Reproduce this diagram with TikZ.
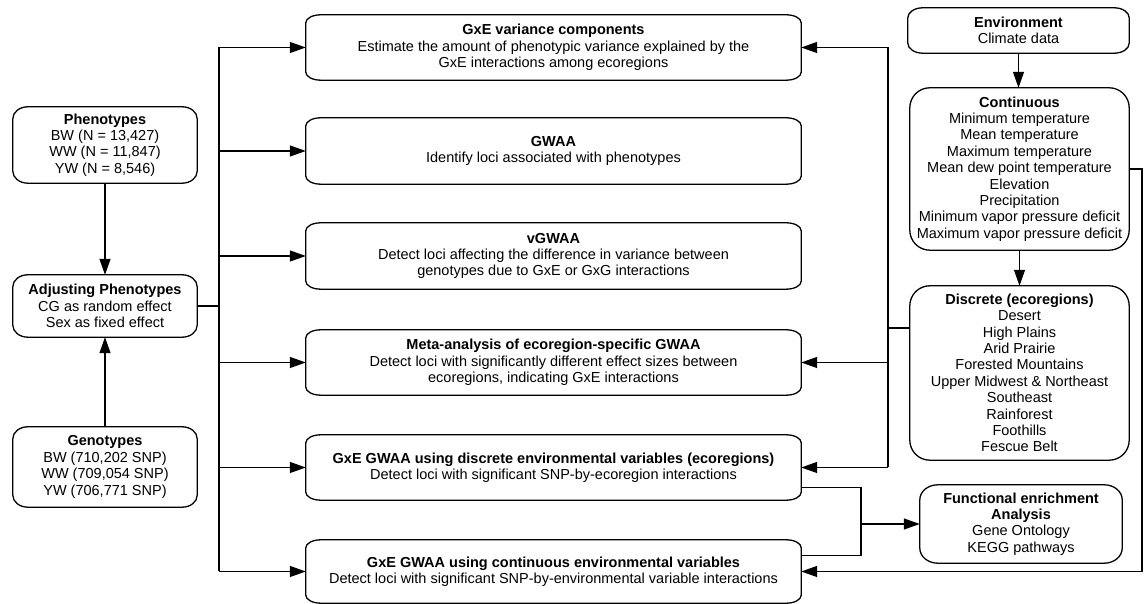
\documentclass[tikz,border=0pt]{standalone}
\usepackage{fontspec}
\setmainfont{Liberation Sans}
\usetikzlibrary{arrows.meta,calc}
\tikzset{
  boxline/.style={line width=1.3pt, draw=black},
  txt/.style={align=center, inner sep=0pt, font=\fontsize{14.5}{16.4}\selectfont},
  conn/.style={line width=1.3pt, draw=black},
  arr/.style={conn, -{Triangle[length=16pt,width=11pt]}},
}
% name, left, top, right, bottom (image coords, y down), rx, ry, text
\newcommand\ebox[8]{%
  \pgfmathsetmacro\ebw{#4-#2}%
  \pgfmathsetmacro\ebh{#5-#3}%
  \pgfmathsetmacro\ebx{(#2+#4)/2}%
  \pgfmathsetmacro\eby{604-(#3+#5)/2}%
  \node[txt, minimum width=\ebw pt, minimum height=\ebh pt] (#1) at (\ebx,\eby) {#8};
  \draw[boxline] ([yshift=-#7pt]#1.north west)
     arc[start angle=180,end angle=90,x radius=#6pt,y radius=#7pt]
     -- ([xshift=-#6pt]#1.north east)
     arc[start angle=90,end angle=0,x radius=#6pt,y radius=#7pt]
     -- ([yshift=#7pt]#1.south east)
     arc[start angle=0,end angle=-90,x radius=#6pt,y radius=#7pt]
     -- ([xshift=#6pt]#1.south west)
     arc[start angle=-90,end angle=-180,x radius=#6pt,y radius=#7pt]
     -- cycle;
}
\begin{document}
\begin{tikzpicture}[x=1pt,y=1pt]
\fill[white] (0,0) rectangle (1146,604);
\useasboundingbox (0,0) rectangle (1146,604);

% left column
\ebox{phen}{13}{107}{197}{183}{15}{12}{\textbf{Phenotypes}\\BW (N = 13,427)\\WW (N = 11,847)\\YW (N = 8,546)}
\ebox{adj}{13}{275}{197}{337}{15}{12}{\textbf{Adjusting Phenotypes}\\CG as random effect\\Sex as fixed effect}
\ebox{gen}{13}{427}{197}{507}{15}{12}{\textbf{Genotypes}\\BW (710,202 SNP)\\WW (709,054 SNP)\\YW (706,771 SNP)}

% middle column
\ebox{var}{306}{15}{801}{80}{15}{8}{\textbf{GxE variance components}\\Estimate the amount of phenotypic variance explained by the\\GxE interactions among ecoregions}
\ebox{gwaa}{306}{118}{801}{184}{15}{8}{\textbf{GWAA}\\Identify loci associated with phenotypes}
\ebox{vgwaa}{306}{223}{801}{289}{15}{8}{\textbf{vGWAA}\\Detect loci affecting the difference in variance between\\genotypes due to GxE or GxG interactions}
\ebox{meta}{306}{330}{801}{395}{15}{8}{\textbf{Meta-analysis of ecoregion-specific GWAA}\\Detect loci with significantly different effect sizes between\\ecoregions, indicating GxE interactions}
\ebox{gxed}{306}{435}{801}{500}{15}{8}{\textbf{GxE GWAA using discrete environmental variables (ecoregions)}\\Detect loci with significant SNP-by-ecoregion interactions}
\ebox{gxec}{306}{540}{801}{603}{15}{8}{\textbf{GxE GWAA using continuous environmental variables}\\Detect loci with significant SNP-by-environmental variable interactions}

% right column
\ebox{env}{908}{8}{1129}{53}{15}{10}{\textbf{Environment}\\Climate data}
\ebox{cont}{910}{88}{1129}{250}{20}{20}{\textbf{Continuous}\\Minimum temperature\\Mean temperature\\Maximum temperature\\Mean dew point temperature\\Elevation\\Precipitation\\Minimum vapor pressure deficit\\Maximum vapor pressure deficit}
\ebox{disc}{910}{286}{1129}{460}{20}{20}{\textbf{Discrete (ecoregions)}\\Desert\\High Plains\\Arid Prairie\\Forested Mountains\\Upper Midwest \& Northeast\\Southeast\\Rainforest\\Foothills\\Fescue Belt}
\ebox{fun}{920}{485}{1122}{563}{18}{15}{\textbf{Functional enrichment}\\\textbf{Analysis}\\Gene Ontology\\KEGG pathways}

% left connectors
\draw[arr] (phen.south) -- (adj.north);
\draw[arr] (gen.north) -- (adj.south);
\coordinate (busx) at (219,0);
\draw[conn] (adj.east) -- (adj.east -| busx);
\draw[conn] (var.west -| busx) -- (gxec.west -| busx);
\foreach \n in {var,gwaa,vgwaa,meta,gxed,gxec}
  \draw[arr] (\n.west -| busx) -- (\n.west);

% right connectors
\draw[arr] (env.south) -- (env.south |- cont.north);
\draw[arr] (cont.south) -- (cont.south |- disc.north);
\coordinate (dj) at (888,276);
\draw[conn] (disc.west |- dj) -- (dj);
\draw[conn] (var.east -| dj) -- (gxed.east -| dj);
\foreach \n in {var,meta,gxed}
  \draw[arr] (\n.east -| dj) -- (\n.east);
\coordinate (crx) at (1142,0);
\draw[arr] (cont.east) -- (cont.east -| crx) -- (gxec.east -| crx) -- (gxec.east);

% functional enrichment bracket
\coordinate (fjx) at (861,0);
\coordinate (fj) at (fun.west -| fjx);
\draw[conn] ([yshift=-20pt]gxed.east) -| (fj) |- ([yshift=16pt]gxec.east);
\draw[arr] (fj) -- (fun.west);
\end{tikzpicture}
\end{document}
